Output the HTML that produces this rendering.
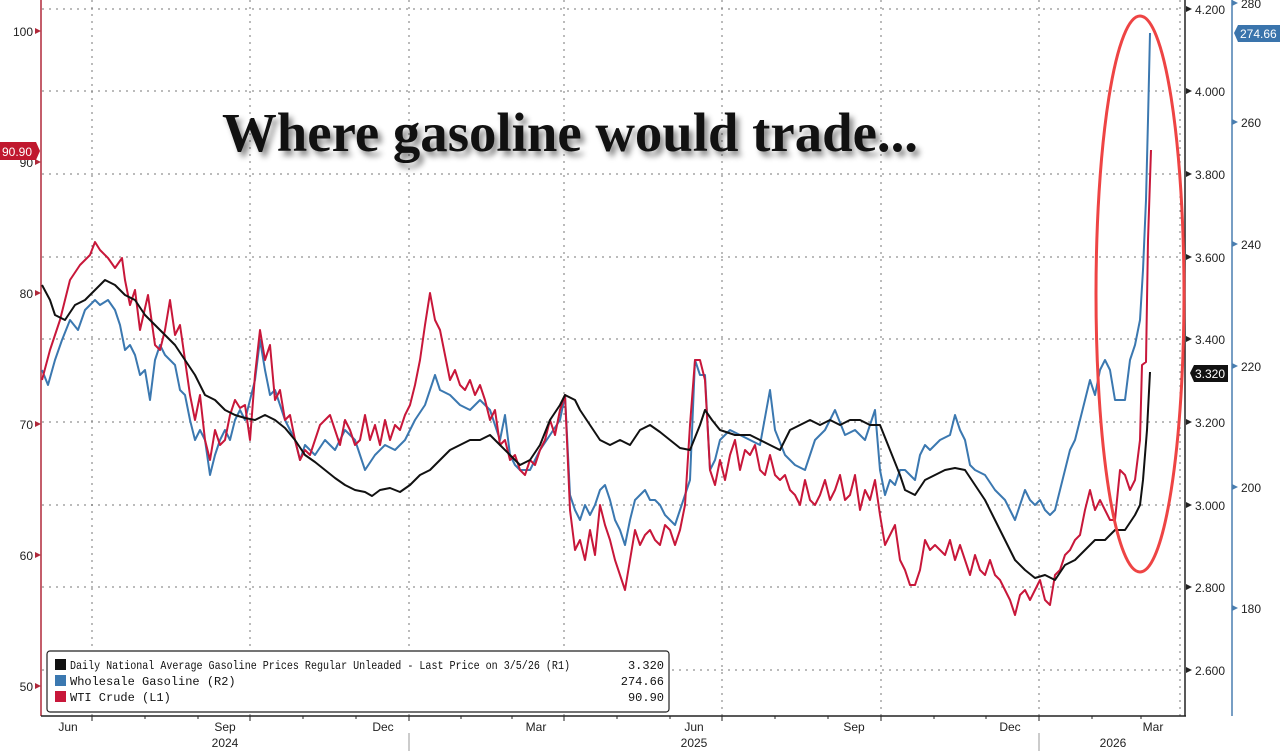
<!DOCTYPE html>
<html><head><meta charset="utf-8"><style>
html,body{margin:0;padding:0;background:#fff;}
svg{display:block;font-family:"Liberation Sans",sans-serif;}
</style></head><body>
<svg width="1280" height="751" viewBox="0 0 1280 751" xmlns="http://www.w3.org/2000/svg">
<rect width="1280" height="751" fill="#fff"/>
<g stroke="#777" stroke-width="1" stroke-dasharray="2,5">
<line x1="42" y1="9" x2="1180" y2="9"/>
<line x1="42" y1="91" x2="1180" y2="91"/>
<line x1="42" y1="174" x2="1180" y2="174"/>
<line x1="42" y1="257" x2="1180" y2="257"/>
<line x1="42" y1="339" x2="1180" y2="339"/>
<line x1="42" y1="422" x2="1180" y2="422"/>
<line x1="42" y1="505" x2="1180" y2="505"/>
<line x1="42" y1="587" x2="1180" y2="587"/>
<line x1="42" y1="670" x2="1180" y2="670"/>
<line x1="92" y1="0" x2="92" y2="716"/>
<line x1="250" y1="0" x2="250" y2="716"/>
<line x1="409" y1="0" x2="409" y2="716"/>
<line x1="564" y1="0" x2="564" y2="716"/>
<line x1="722" y1="0" x2="722" y2="716"/>
<line x1="881" y1="0" x2="881" y2="716"/>
<line x1="1039" y1="0" x2="1039" y2="716"/>
<line x1="1180" y1="0" x2="1180" y2="716"/>
</g>
<line x1="41" y1="0" x2="41" y2="716" stroke="#b0283a" stroke-width="1.5"/>
<line x1="41" y1="716" x2="1186" y2="716" stroke="#222" stroke-width="1.5"/>
<line x1="1185" y1="0" x2="1185" y2="716" stroke="#222" stroke-width="1.5"/>
<line x1="1232" y1="0" x2="1232" y2="716" stroke="#4a7eb0" stroke-width="1.5"/>
<g font-size="12" fill="#222" text-anchor="end">
<text x="33" y="36">100</text><text x="33" y="167">90</text><text x="33" y="298">80</text>
<text x="33" y="429">70</text><text x="33" y="560">60</text><text x="33" y="691">50</text>
</g>
<g fill="#b0283a">
<polygon points="41,31 35,28 35,34"/><polygon points="41,162 35,159 35,165"/><polygon points="41,293 35,290 35,296"/>
<polygon points="41,424 35,421 35,427"/><polygon points="41,555 35,552 35,558"/><polygon points="41,686 35,683 35,689"/>
</g>
<polygon points="0,142 36,142 40,151 36,160 0,160" fill="#c0182e"/>
<text x="2" y="156" font-size="12" fill="#fff">90.90</text>
<g font-size="12" fill="#222">
<text x="1195" y="14">4.200</text><text x="1195" y="96">4.000</text><text x="1195" y="179">3.800</text>
<text x="1195" y="262">3.600</text><text x="1195" y="344">3.400</text><text x="1195" y="427">3.200</text>
<text x="1195" y="510">3.000</text><text x="1195" y="592">2.800</text><text x="1195" y="675">2.600</text>
</g>
<g fill="#222">
<polygon points="1192,9 1186,6 1186,12"/><polygon points="1192,91 1186,88 1186,94"/><polygon points="1192,174 1186,171 1186,177"/>
<polygon points="1192,257 1186,254 1186,260"/><polygon points="1192,339 1186,336 1186,342"/><polygon points="1192,422 1186,419 1186,425"/>
<polygon points="1192,505 1186,502 1186,508"/><polygon points="1192,587 1186,584 1186,590"/><polygon points="1192,670 1186,667 1186,673"/>
</g>
<polygon points="1190,373 1194,365 1228,365 1228,382 1194,382" fill="#111"/>
<text x="1195" y="378" font-size="12" fill="#fff">3.320</text>
<g font-size="12" fill="#222">
<text x="1241" y="8">280</text><text x="1241" y="127">260</text><text x="1241" y="249">240</text>
<text x="1241" y="371">220</text><text x="1241" y="492">200</text><text x="1241" y="613">180</text>
</g>
<g fill="#4a7eb0">
<polygon points="1238,3 1232,0 1232,6"/><polygon points="1238,122 1232,119 1232,125"/><polygon points="1238,244 1232,241 1232,247"/>
<polygon points="1238,366 1232,363 1232,369"/><polygon points="1238,487 1232,484 1232,490"/><polygon points="1238,608 1232,605 1232,611"/>
</g>
<polygon points="1234,33 1238,25 1280,25 1280,42 1238,42" fill="#3a74ac"/>
<text x="1240" y="38" font-size="12" fill="#fff">274.66</text>
<g stroke="#222" stroke-width="1">
<line x1="92" y1="716" x2="92" y2="721"/><line x1="145" y1="716" x2="145" y2="719"/><line x1="198" y1="716" x2="198" y2="719"/>
<line x1="250" y1="716" x2="250" y2="721"/><line x1="303" y1="716" x2="303" y2="719"/><line x1="356" y1="716" x2="356" y2="719"/>
<line x1="409" y1="716" x2="409" y2="721"/><line x1="461" y1="716" x2="461" y2="719"/><line x1="512" y1="716" x2="512" y2="719"/>
<line x1="564" y1="716" x2="564" y2="721"/><line x1="617" y1="716" x2="617" y2="719"/><line x1="670" y1="716" x2="670" y2="719"/>
<line x1="722" y1="716" x2="722" y2="721"/><line x1="775" y1="716" x2="775" y2="719"/><line x1="828" y1="716" x2="828" y2="719"/>
<line x1="881" y1="716" x2="881" y2="721"/><line x1="934" y1="716" x2="934" y2="719"/><line x1="986" y1="716" x2="986" y2="719"/>
<line x1="1039" y1="716" x2="1039" y2="721"/><line x1="1092" y1="716" x2="1092" y2="719"/><line x1="1141" y1="716" x2="1141" y2="719"/>
</g>
<line x1="409" y1="733" x2="409" y2="751" stroke="#999"/>
<line x1="1039" y1="733" x2="1039" y2="751" stroke="#999"/>
<g font-size="12" fill="#222" text-anchor="middle">
<text x="68" y="731">Jun</text><text x="225" y="731">Sep</text><text x="383" y="731">Dec</text><text x="536" y="731">Mar</text>
<text x="694" y="731">Jun</text><text x="854" y="731">Sep</text><text x="1010" y="731">Dec</text><text x="1153" y="731">Mar</text>
<text x="225" y="747">2024</text><text x="694" y="747">2025</text><text x="1113" y="747">2026</text>
</g>
<g fill="none" stroke-width="2" stroke-linejoin="round">
<polyline stroke="#3b78b0" points="42,370 48,385 55,360 62,340 70,320 78,330 85,310 95,300 100,305 108,300 115,310 120,325 125,350 130,345 135,355 140,375 145,370 150,400 155,360 160,345 165,355 175,365 180,390 185,395 190,420 195,440 200,430 205,440 210,475 215,455 220,440 225,430 230,440 235,420 240,410 245,420 255,380 260,340 265,370 270,395 275,390 280,405 285,420 290,430 295,440 300,460 305,445 315,455 325,440 335,450 345,430 355,440 365,470 375,455 385,445 395,450 405,440 415,420 425,405 430,390 435,375 440,390 450,395 460,405 470,410 480,400 490,410 500,440 505,415 510,455 515,465 520,470 530,470 540,450 550,435 560,420 565,395 570,495 575,510 580,520 585,505 590,515 595,505 600,490 605,485 610,500 615,520 620,530 625,545 630,520 635,500 640,495 645,490 650,500 655,500 660,505 665,515 670,520 675,525 680,510 685,495 690,480 695,360 700,375 705,375 710,470 715,460 720,440 730,430 740,435 750,440 760,445 770,390 775,430 785,455 795,465 805,470 815,440 825,430 835,410 845,435 855,430 865,440 875,410 880,470 885,495 890,480 895,485 900,470 905,470 910,475 915,480 920,455 925,445 930,450 940,440 950,435 955,415 960,430 965,440 970,465 975,470 985,475 995,490 1005,500 1010,510 1015,520 1020,505 1025,490 1030,500 1035,505 1040,500 1045,510 1050,515 1055,510 1060,490 1065,470 1070,450 1075,440 1080,420 1085,400 1090,380 1095,395 1100,370 1105,360 1110,370 1115,400 1120,400 1125,400 1130,360 1135,345 1140,320 1143,270 1146,200 1148,120 1150,33"/>
<polyline stroke="#c8173a" points="42,380 50,350 60,320 70,280 80,265 90,255 95,242 100,250 108,258 115,268 122,258 125,280 130,305 135,290 140,330 148,295 155,345 160,350 165,330 170,300 175,335 180,325 185,360 190,395 195,420 200,395 205,440 210,460 215,430 220,445 225,440 230,415 235,400 240,408 245,405 250,440 255,375 260,330 265,360 270,345 275,400 280,390 285,420 290,415 295,440 300,460 305,450 310,455 315,440 320,425 325,420 330,415 335,430 340,445 345,420 350,430 355,445 360,440 365,415 370,440 375,425 380,445 385,420 390,440 395,425 400,430 405,415 410,405 415,385 420,360 425,325 430,293 435,320 440,330 445,355 450,380 455,370 460,385 465,390 470,380 475,395 480,385 485,400 490,420 495,410 500,445 505,440 510,460 515,455 520,470 525,475 530,460 535,465 540,450 545,440 550,420 555,435 560,410 565,395 570,510 575,550 580,540 585,560 590,530 595,555 600,505 605,525 610,540 615,560 620,575 625,590 630,560 635,530 640,545 645,535 650,530 655,540 660,545 665,525 670,530 675,545 680,530 685,505 690,425 695,360 700,360 705,380 710,470 715,485 720,460 725,480 730,455 735,440 740,470 745,450 750,455 755,445 760,470 765,475 770,455 775,475 780,480 785,475 790,490 795,495 800,505 805,480 810,500 815,505 820,495 825,480 830,500 835,490 840,475 845,500 850,495 855,475 860,510 865,490 870,500 875,480 880,515 885,545 890,535 895,525 900,560 905,570 910,585 915,585 920,570 925,540 930,550 935,545 940,550 945,555 950,540 955,560 960,545 965,560 970,575 975,555 980,570 985,575 990,560 995,575 1000,580 1005,590 1010,600 1015,615 1020,595 1025,590 1030,600 1035,590 1040,580 1045,600 1050,605 1055,575 1060,570 1065,555 1070,550 1075,540 1080,535 1085,510 1090,490 1095,510 1100,500 1105,510 1110,520 1115,520 1120,470 1125,475 1130,490 1135,480 1140,440 1142,365 1146,362 1148,240 1151,150"/>
<polyline stroke="#111" points="42,285 50,300 55,315 65,320 75,305 85,300 95,290 105,280 115,285 125,295 135,300 145,315 155,325 165,335 175,345 185,360 195,375 205,395 215,400 225,410 235,415 245,418 255,420 265,415 275,420 285,428 295,440 305,455 315,462 325,470 335,478 345,485 355,490 365,492 372,496 380,490 390,488 400,492 410,485 420,475 430,470 440,460 450,450 460,445 470,440 480,440 490,435 500,445 510,455 520,465 530,460 540,445 550,420 560,405 565,395 575,400 580,410 590,425 600,440 610,445 620,440 630,445 640,430 650,425 660,432 670,440 680,448 690,450 700,425 705,410 712,420 720,430 735,435 750,435 760,440 770,445 780,450 790,430 800,425 810,420 820,425 830,420 840,425 850,420 860,420 870,425 880,425 890,450 900,475 905,490 915,495 925,480 935,475 945,470 955,468 965,470 975,485 985,500 995,520 1005,540 1015,560 1025,570 1035,578 1045,575 1055,580 1065,565 1075,560 1085,550 1095,540 1105,540 1115,530 1125,530 1135,515 1140,505 1143,480 1147,430 1150,372"/>
</g>
<ellipse cx="1140" cy="294" rx="44" ry="278" fill="none" stroke="#ee4444" stroke-width="3"/>
<text x="222" y="151" font-family="Liberation Serif,serif" font-weight="bold" font-size="55" fill="#111" textLength="696" lengthAdjust="spacingAndGlyphs" style="filter:drop-shadow(4px 5px 3px rgba(0,0,0,0.45))">Where gasoline would trade...</text>
<rect x="47" y="651" width="622" height="61" rx="3" fill="#fff" stroke="#222" stroke-width="1.2"/>
<g font-family="Liberation Mono,DejaVu Sans Mono,monospace" font-size="12" fill="#111">
<rect x="55" y="659" width="11" height="11" fill="#111"/>
<rect x="55" y="675" width="11" height="11" fill="#3b78b0"/>
<rect x="55" y="691" width="11" height="11" fill="#c8173a"/>
<text x="70" y="669" textLength="500" lengthAdjust="spacingAndGlyphs">Daily National Average Gasoline Prices Regular Unleaded - Last Price on 3/5/26 (R1)</text>
<text x="70" y="685">Wholesale Gasoline (R2)</text>
<text x="70" y="701">WTI Crude (L1)</text>
<text x="664" y="669" text-anchor="end">3.320</text>
<text x="664" y="685" text-anchor="end">274.66</text>
<text x="664" y="701" text-anchor="end">90.90</text>
</g>
</svg>
</body></html>
